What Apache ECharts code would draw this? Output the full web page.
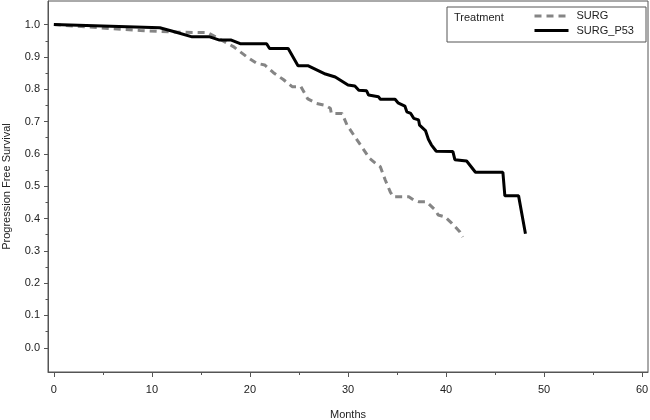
<!DOCTYPE html>
<html>
<head>
<meta charset="utf-8">
<script src="https://cdn.jsdelivr.net/npm/echarts@6/dist/echarts.min.js"></script>
<style>
html,body{margin:0;padding:0;background:#fff;}
#chart{width:650px;height:420px;}
</style>
</head>
<body>
<div id="chart"></div>
<script>
// ---- data ----
var legendTitle = 'Treatment';
var seriesNames = ['SURG', 'SURG_P53'];

var surgMonths = [0, 4.7, 8.8, 12.0, 15.7, 18.3, 19.7, 20.7, 21.5, 22.4, 23.4, 24.3, 25.2, 25.9, 26.8, 27.7, 28.2, 28.3, 29.4, 29.9, 30.7, 31.4, 32.2, 32.8, 33.3, 33.8, 34.3, 34.6, 36.2, 36.7, 37.2, 38.0, 38.9, 39.2, 39.9, 40.6, 41.4, 41.7];
var surgSurv   = [1.0, 0.99, 0.982, 0.977, 0.975, 0.932, 0.900, 0.880, 0.875, 0.851, 0.830, 0.808, 0.808, 0.770, 0.756, 0.750, 0.741, 0.725, 0.725, 0.689, 0.653, 0.622, 0.586, 0.571, 0.560, 0.519, 0.483, 0.467, 0.467, 0.457, 0.452, 0.452, 0.426, 0.411, 0.405, 0.385, 0.359, 0.343];

var p53Months = [0, 10.8, 12.3, 14.1, 15.9, 16.9, 18.1, 19.0, 21.7, 22.0, 23.9, 24.9, 25.9, 27.7, 28.7, 30.0, 30.7, 31.1, 31.9, 32.1, 33.1, 33.3, 34.8, 35.1, 35.8, 36.0, 36.4, 36.7, 37.2, 37.3, 37.9, 38.2, 38.5, 39.0, 40.7, 40.9, 42.1, 43.0, 45.8, 46.0, 47.4, 48.1];
var p53Surv   = [1.0, 0.99, 0.978, 0.962, 0.962, 0.952, 0.952, 0.941, 0.941, 0.926, 0.926, 0.873, 0.873, 0.847, 0.838, 0.813, 0.810, 0.797, 0.795, 0.782, 0.777, 0.769, 0.769, 0.758, 0.748, 0.730, 0.725, 0.710, 0.705, 0.689, 0.672, 0.645, 0.628, 0.608, 0.607, 0.582, 0.578, 0.543, 0.543, 0.470, 0.470, 0.353];

var xMajorTicks = [0, 10, 20, 30, 40, 50, 60];
var xMinorTicks = [5, 15, 25, 35, 45, 55];
var yMajorTicks = [0.0, 0.1, 0.2, 0.3, 0.4, 0.5, 0.6, 0.7, 0.8, 0.9, 1.0];
var yMinorTicks = [0.05, 0.15, 0.25, 0.35, 0.45, 0.55, 0.65, 0.75, 0.85, 0.95];

function zip(a, b) { return a.map(function (v, i) { return [v, b[i]]; }); }

var FONT = 'Liberation Sans';
var AX = '#555';
var TXT = '#222';

var xRange = { min: -0.6, max: 60.6 };
var yRange = { min: -0.075, max: 1.073 };

var chart = echarts.init(document.getElementById('chart'), null, { renderer: 'canvas' });

chart.setOption({
  animation: false,
  backgroundColor: '#fff',
  grid: {
    left: 48, right: 2, top: 1, bottom: 48,
    containLabel: false, outerBoundsMode: 'none',
    show: true, borderColor: AX, borderWidth: 1, backgroundColor: 'transparent'
  },
  legend: {
    orient: 'vertical',
    left: 533, top: 10, padding: 0,
    itemWidth: 34, itemHeight: 10, itemGap: 2.5,
    itemStyle: { color: 'rgba(0,0,0,0)', borderWidth: 0, opacity: 0 },
    lineStyle: { width: 3 },
    textStyle: { fontFamily: FONT, fontSize: 11, color: TXT, lineHeight: 12, padding: [0, 0, 0, 3] },
    data: seriesNames
  },
  graphic: [
    {
      type: 'rect', silent: true,
      shape: { x: 447, y: 7, width: 199, height: 35 },
      style: { fill: 'transparent', stroke: AX, lineWidth: 1 }
    },
    {
      type: 'text', silent: true,
      left: 454, top: 12,
      style: { text: legendTitle, fontFamily: FONT, fontSize: 11, fill: TXT }
    }
  ],
  xAxis: [
    {
      type: 'value', min: xRange.min, max: xRange.max,
      name: 'Months', nameLocation: 'middle', nameGap: 37,
      nameTextStyle: { fontFamily: FONT, fontSize: 11, color: TXT },
      axisLine: { show: true, onZero: false, lineStyle: { color: AX, width: 1 } },
      axisTick: { show: true, length: 5, customValues: xMajorTicks, lineStyle: { color: AX } },
      axisLabel: { customValues: xMajorTicks, margin: 12, fontFamily: FONT, fontSize: 11, color: TXT,
        formatter: function (v) { return String(Math.round(v)); } },
      splitLine: { show: false }
    },
    {
      type: 'value', min: xRange.min, max: xRange.max, position: 'bottom',
      axisLine: { show: false, onZero: false },
      axisTick: { show: true, length: 3, customValues: xMinorTicks, lineStyle: { color: AX } },
      axisLabel: { show: false },
      splitLine: { show: false }
    }
  ],
  yAxis: [
    {
      type: 'value', min: yRange.min, max: yRange.max,
      name: 'Progression Free Survival', nameLocation: 'middle', nameGap: 36,
      nameTextStyle: { fontFamily: FONT, fontSize: 11, color: TXT },
      axisLine: { show: true, onZero: false, lineStyle: { color: AX, width: 1 } },
      axisTick: { show: true, length: 4, customValues: yMajorTicks, lineStyle: { color: AX } },
      axisLabel: { customValues: yMajorTicks, margin: 8, fontFamily: FONT, fontSize: 11, color: TXT,
        formatter: function (v) { return v.toFixed(1); } },
      splitLine: { show: false }
    },
    {
      type: 'value', min: yRange.min, max: yRange.max, position: 'left',
      axisLine: { show: false, onZero: false },
      axisTick: { show: true, length: 2.5, customValues: yMinorTicks, lineStyle: { color: AX } },
      axisLabel: { show: false },
      splitLine: { show: false }
    }
  ],
  series: [
    {
      name: seriesNames[0], type: 'line', xAxisIndex: 0, yAxisIndex: 0,
      data: zip(surgMonths, surgSurv),
      symbol: 'none', smooth: false,
      lineStyle: { color: '#858585', width: 3, type: [7, 5] },
      itemStyle: { color: '#858585' },
      z: 2
    },
    {
      name: seriesNames[1], type: 'line', xAxisIndex: 0, yAxisIndex: 0,
      data: zip(p53Months, p53Surv),
      symbol: 'none', smooth: false,
      lineStyle: { color: '#000', width: 3 },
      itemStyle: { color: '#000' },
      z: 3
    }
  ]
});
</script>
</body>
</html>
